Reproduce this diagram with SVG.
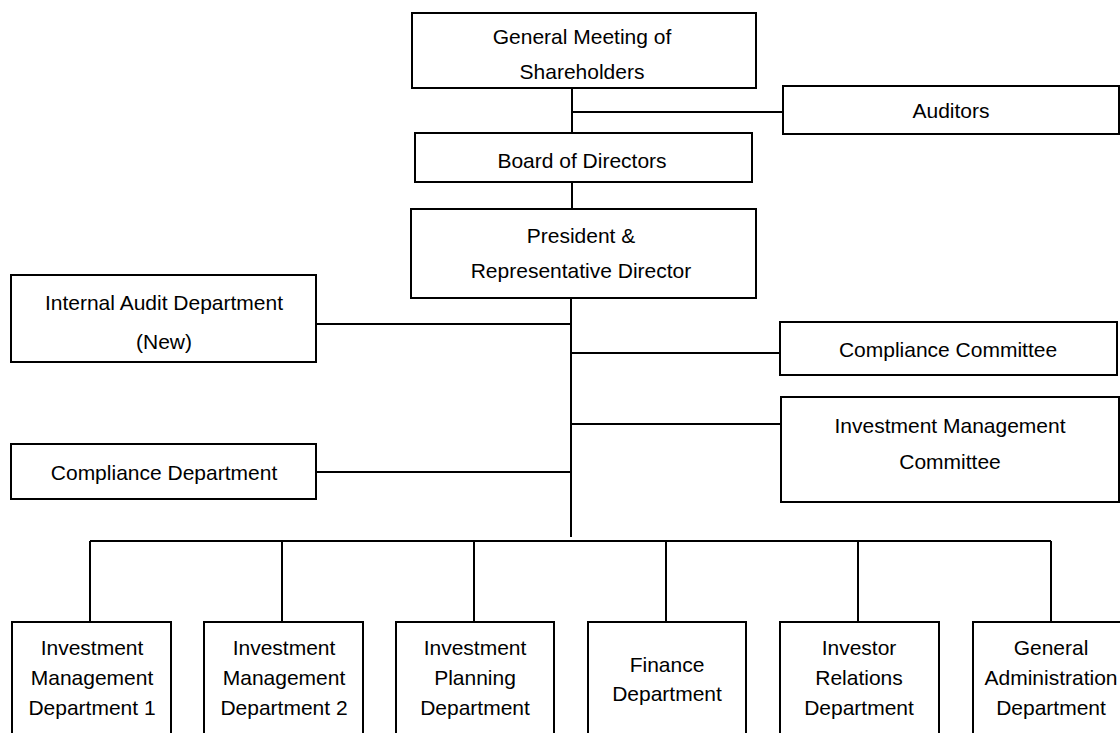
<svg xmlns="http://www.w3.org/2000/svg" width="1120" height="733" viewBox="0 0 1120 733">
<style>
.box{fill:#fff;stroke:#000;stroke-width:2}
.ln{fill:none;stroke:#000;stroke-width:2}
text{font-family:"Liberation Sans",Arial,sans-serif;font-size:21px;fill:#000;text-anchor:middle}
</style>
<rect width="1120" height="733" fill="#fff"/>
<g id="connectors">
<path class="ln" d="M572 88V133M572 112H783M572 182V209M571 298V537M316 324H571M316 472H571M571 353H780M571 424H781"/>
<path class="ln" d="M90 541H1051M90 541V622M282 541V622M474 541V622M666 541V622M858 541V622M1051 541V622"/>
</g>
<g id="gm"><rect class="box" x="412" y="13" width="344" height="75"/><text x="582" y="44">General Meeting of</text><text x="582" y="79">Shareholders</text></g>
<g id="auditors"><rect class="box" x="783" y="86" width="336" height="48"/><text x="951" y="118">Auditors</text></g>
<g id="board"><rect class="box" x="415" y="133" width="337" height="49"/><text x="582" y="168">Board of Directors</text></g>
<g id="president"><rect class="box" x="411" y="209" width="345" height="89"/><text x="581" y="243">President &amp;</text><text x="581" y="278">Representative Director</text></g>
<g id="internal-audit"><rect class="box" x="11" y="275" width="305" height="87"/><text x="164" y="310">Internal Audit Department</text><text x="164" y="349">(New)</text></g>
<g id="compliance-committee"><rect class="box" x="780" y="322" width="337" height="53"/><text x="948" y="357">Compliance Committee</text></g>
<g id="imc"><rect class="box" x="781" y="397" width="338" height="105"/><text x="950" y="433">Investment Management</text><text x="950" y="469">Committee</text></g>
<g id="compliance-dept"><rect class="box" x="11" y="444" width="305" height="55"/><text x="164" y="480">Compliance Department</text></g>
<g id="imd1"><rect class="box" x="12" y="622" width="159" height="130"/><text x="92" y="655">Investment</text><text x="92" y="685">Management</text><text x="92" y="715">Department 1</text></g>
<g id="imd2"><rect class="box" x="204" y="622" width="159" height="130"/><text x="284" y="655">Investment</text><text x="284" y="685">Management</text><text x="284" y="715">Department 2</text></g>
<g id="ipd"><rect class="box" x="396" y="622" width="158" height="130"/><text x="475" y="655">Investment</text><text x="475" y="685">Planning</text><text x="475" y="715">Department</text></g>
<g id="finance"><rect class="box" x="588" y="622" width="158" height="130"/><text x="667" y="672">Finance</text><text x="667" y="701">Department</text></g>
<g id="ir"><rect class="box" x="780" y="622" width="159" height="130"/><text x="859" y="655">Investor</text><text x="859" y="685">Relations</text><text x="859" y="715">Department</text></g>
<g id="ga"><rect class="box" x="973" y="622" width="158" height="130"/><text x="1051" y="655">General</text><text x="1051" y="685">Administration</text><text x="1051" y="715">Department</text></g>
</svg>
